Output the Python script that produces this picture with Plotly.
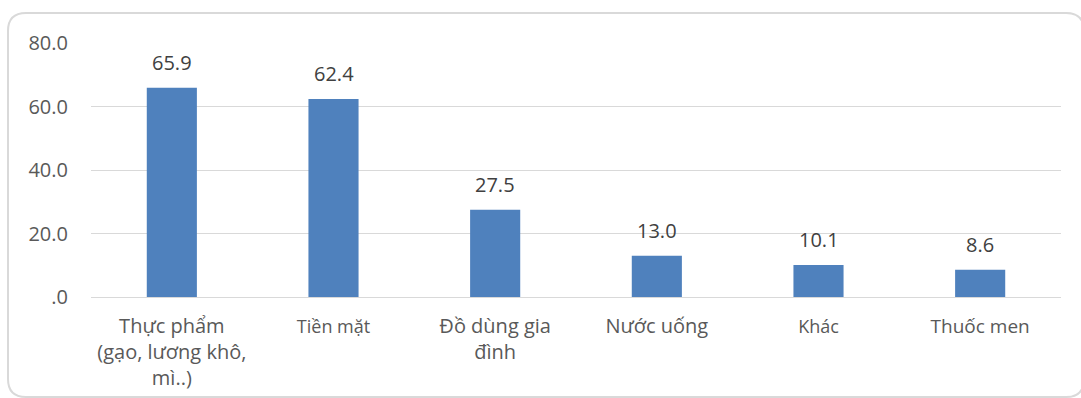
import plotly.graph_objects as go

categories = ["Thực phẩm (gạo, lương khô, mì..)", "Tiền mặt", "Đồ dùng gia đình",
              "Nước uống", "Khác", "Thuốc men"]
tick_labels = [
    "<span style='font-size:20px'>Thực phẩm<br>(gạo, lương khô,<br>mì..)</span>",
    "<span style='font-size:18px'>Tiền mặt</span>",
    "<span style='font-size:20px'>Đồ dùng gia<br>đình</span>",
    "<span style='font-size:20px'>Nước uống</span>",
    "<span style='font-size:18px'>Khác</span>",
    "<span style='font-size:19px'>Thuốc men</span>",
]
values = [65.9, 62.4, 27.5, 13.0, 10.1, 8.6]
y_ticks = [0, 20, 40, 60, 80]
y_tick_text = [".0", "20.0", "40.0", "60.0", "80.0"]

W, H = 1081, 398
ml, mr, mt, mb = 91, 20, 43, 101

fig = go.Figure()
fig.add_trace(go.Bar(
    x=categories, y=values, marker=dict(color="#4f81bd", line=dict(width=0)),
    width=0.31, hoverinfo="skip",
))

for c, v in zip(categories, values):
    fig.add_annotation(x=c, y=v, text=f"{v:.1f}", showarrow=False,
                       yanchor="bottom", yshift=10,
                       font=dict(size=20, color="#404040", family="Open Sans"))

# rounded border in paper coordinates
pw, ph = W - ml - mr, H - mt - mb
def px(x):
    return (x - ml) / pw
def py(y):
    return 1 - (y - mt) / ph
x0, x1, y0, y1, r = 8, 1084, 13, 397, 18
path = (f"M {px(x0+r)},{py(y0)} L {px(x1-r)},{py(y0)} Q {px(x1)},{py(y0)} {px(x1)},{py(y0+r)} "
        f"L {px(x1)},{py(y1-r)} Q {px(x1)},{py(y1)} {px(x1-r)},{py(y1)} "
        f"L {px(x0+r)},{py(y1)} Q {px(x0)},{py(y1)} {px(x0)},{py(y1-r)} "
        f"L {px(x0)},{py(y0+r)} Q {px(x0)},{py(y0)} {px(x0+r)},{py(y0)} Z")
fig.add_shape(type="path", path=path, xref="paper", yref="paper",
              line=dict(color="#d9d9d9", width=2), layer="below")

fig.update_layout(
    width=W, height=H, margin=dict(l=ml, r=mr, t=mt, b=mb, autoexpand=False),
    paper_bgcolor="white", plot_bgcolor="white", showlegend=False,
    font=dict(family="Open Sans", color="#595959"),
    bargap=0.69,
)
fig.update_xaxes(tickmode="array", tickvals=categories, ticktext=tick_labels,
                 tickangle=0, showgrid=False, showline=True, linecolor="#d9d9d9",
                 linewidth=1, ticks="outside", ticklen=11, tickcolor="rgba(0,0,0,0)",
                 automargin=False,
                 tickfont=dict(size=20, color="#595959", family="Open Sans"))
fig.update_yaxes(range=[0, 80], tickvals=y_ticks, ticktext=y_tick_text,
                 showgrid=True, gridcolor="#d9d9d9", gridwidth=1, zeroline=False,
                 showline=False, ticklabelstandoff=22, automargin=False,
                 tickfont=dict(size=20, color="#595959", family="Open Sans"))

fig.write_html("out.html")
